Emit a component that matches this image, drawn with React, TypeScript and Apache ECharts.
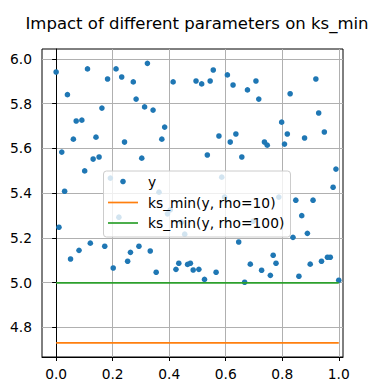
import React, { useEffect, useRef } from "react";
import * as echarts from "echarts";

const chartTitle = "Impact of different parameters on ks_min";
const seriesNames = ["y", "ks_min(y, rho=10)", "ks_min(y, rho=100)"];
const seriesColors = ["#1f77b4", "#ff7f0e", "#2ca02c"];

const xValues = [
  0.0, 0.01, 0.02, 0.03, 0.04, 0.051, 0.061, 0.071, 0.081, 0.091,
  0.101, 0.111, 0.121, 0.131, 0.141, 0.152, 0.162, 0.172, 0.182, 0.192,
  0.202, 0.212, 0.222, 0.232, 0.242, 0.253, 0.263, 0.273, 0.283, 0.293,
  0.303, 0.313, 0.323, 0.333, 0.343, 0.354, 0.364, 0.374, 0.384, 0.394,
  0.404, 0.414, 0.424, 0.434, 0.444, 0.455, 0.465, 0.475, 0.485, 0.495,
  0.505, 0.515, 0.525, 0.535, 0.545, 0.556, 0.566, 0.576, 0.586, 0.596,
  0.606, 0.616, 0.626, 0.636, 0.646, 0.657, 0.667, 0.677, 0.687, 0.697,
  0.707, 0.717, 0.727, 0.737, 0.747, 0.758, 0.768, 0.778, 0.788, 0.798,
  0.808, 0.818, 0.828, 0.838, 0.848, 0.859, 0.869, 0.879, 0.889, 0.899,
  0.909, 0.919, 0.929, 0.939, 0.949, 0.96, 0.97, 0.98, 0.99, 1.0,
];

const yValues = [
  5.941, 5.247, 5.583, 5.408, 5.84, 5.105, 5.641, 5.722, 5.144, 5.726,
  5.499, 5.955, 5.176, 5.552, 5.65, 5.561, 5.78, 5.162, 5.91, 5.467,
  5.065, 5.955, 5.292, 5.919, 5.628, 5.095, 5.135, 5.897, 5.82, 5.162,
  5.556, 5.785, 5.98, 5.141, 5.771, 5.046, 5.404, 5.641, 5.695, 5.307,
  5.325, 5.897, 5.059, 5.086, 5.27, 5.216, 5.081, 5.086, 5.056, 5.901,
  5.059, 5.888, 5.014, 5.57, 5.901, 5.95, 5.046, 5.655, 5.471, 5.382,
  5.928, 5.628, 5.883, 5.664, 5.181, 5.561, 5.001, 5.861, 5.082, 5.274,
  5.901, 5.82, 5.055, 5.628, 5.614, 5.032, 5.122, 5.086, 5.382, 5.717,
  5.619, 5.664, 5.844, 5.202, 5.368, 5.028, 5.299, 5.646, 5.22, 5.082,
  5.368, 5.91, 5.758, 5.095, 5.673, 5.113, 5.113, 5.426, 5.507, 5.01,
];

const lineX = [0, 1];
const rho10Value = 4.73;
const rho100Value = 4.998;

const xTickValues = [0, 0.2, 0.4, 0.6, 0.8, 1.0];
const yTickValues = [4.8, 5.0, 5.2, 5.4, 5.6, 5.8, 6.0];

const FONT = "DejaVu Sans";

export default function App() {
  const ref = useRef<HTMLDivElement>(null);

  useEffect(() => {
    document.body.style.margin = "0";
    if (!ref.current) return;
    const chart = echarts.init(ref.current, null, { renderer: "svg" });

    const legendX = 103.5;
    const legendY = 171;
    const rowY = [181.5, 202.5, 223];

    const option: any = {
      animation: false,
      backgroundColor: "#ffffff",
      title: {
        text: chartTitle,
        left: 192,
        textAlign: "center",
        top: 9,
        textStyle: {
          fontFamily: FONT,
          fontSize: 16.5,
          fontWeight: "normal",
          color: "#000000",
          lineHeight: 19,
        },
      },
      grid: {
        left: 42,
        right: 31,
        top: 49,
        bottom: 34,
        show: true,
        borderColor: "#000000",
        borderWidth: 1,
        backgroundColor: "transparent",
        containLabel: false,
        outerBoundsMode: "none",
      },
      xAxis: {
        type: "value",
        min: -0.05,
        max: 1.015,
        splitNumber: 5,
        axisLine: { show: true, lineStyle: { color: "#000000", width: 1 } },
        axisTick: {
          show: true,
          length: 4,
          inside: false,
          customValues: xTickValues,
          lineStyle: { color: "#000000", width: 1 },
        },
        axisLabel: {
          customValues: xTickValues,
          margin: 10,
          fontFamily: FONT,
          fontSize: 13.8,
          color: "#000000",
          formatter: (v: number) => v.toFixed(1),
        },
        splitLine: { show: true, lineStyle: { color: "#b0b0b0", width: 1 } },
      },
      yAxis: {
        type: "value",
        min: 4.667,
        max: 6.044,
        splitNumber: 7,
        axisLine: { show: true, lineStyle: { color: "#000000", width: 1 } },
        axisTick: {
          show: true,
          length: 4,
          inside: false,
          customValues: yTickValues,
          lineStyle: { color: "#000000", width: 1 },
        },
        axisLabel: {
          customValues: yTickValues,
          margin: 10,
          fontFamily: FONT,
          fontSize: 13.8,
          color: "#000000",
          formatter: (v: number) => v.toFixed(1),
        },
        splitLine: { show: true, lineStyle: { color: "#b0b0b0", width: 1 } },
      },
      series: [
        {
          name: seriesNames[0],
          type: "scatter",
          symbol: "circle",
          symbolSize: 5.6,
          itemStyle: { color: seriesColors[0], opacity: 1 },
          data: xValues.map((x, i) => [x, yValues[i]]),
          z: 2,
        },
        {
          name: seriesNames[1],
          type: "line",
          showSymbol: false,
          symbol: "none",
          lineStyle: { color: seriesColors[1], width: 1.7 },
          data: lineX.map((x) => [x, rho10Value]),
          z: 3,
        },
        {
          name: seriesNames[2],
          type: "line",
          showSymbol: false,
          symbol: "none",
          lineStyle: { color: seriesColors[2], width: 1.7 },
          data: lineX.map((x) => [x, rho100Value]),
          z: 3,
        },
      ],
      graphic: [
        {
          type: "group",
          z: 100,
          children: [
            {
              type: "rect",
              z: 100,
              shape: { x: legendX, y: legendY, width: 187, height: 66, r: 3 },
              style: { fill: "rgba(255,255,255,0.8)", stroke: "#cccccc", lineWidth: 1 },
            },
            {
              type: "circle",
              z: 101,
              shape: { cx: 123, cy: rowY[0], r: 2.8 },
              style: { fill: seriesColors[0] },
            },
            {
              type: "line",
              z: 101,
              shape: { x1: 108, y1: rowY[1], x2: 138, y2: rowY[1] },
              style: { stroke: seriesColors[1], lineWidth: 1.7 },
            },
            {
              type: "line",
              z: 101,
              shape: { x1: 108, y1: rowY[2], x2: 138, y2: rowY[2] },
              style: { stroke: seriesColors[2], lineWidth: 1.7 },
            },
            ...seriesNames.map((name, i) => ({
              type: "text",
              z: 101,
              x: 148,
              y: rowY[i],
              style: {
                text: name,
                fill: "#000000",
                fontFamily: FONT,
                fontSize: 13.8,
                verticalAlign: "middle",
                align: "left",
              },
            })),
          ],
        },
      ],
    };

    chart.setOption(option);
    return () => chart.dispose();
  }, []);

  return (
    <div
      ref={ref}
      style={{ position: "absolute", left: 0, top: 0, width: 374, height: 391 }}
    />
  );
}
